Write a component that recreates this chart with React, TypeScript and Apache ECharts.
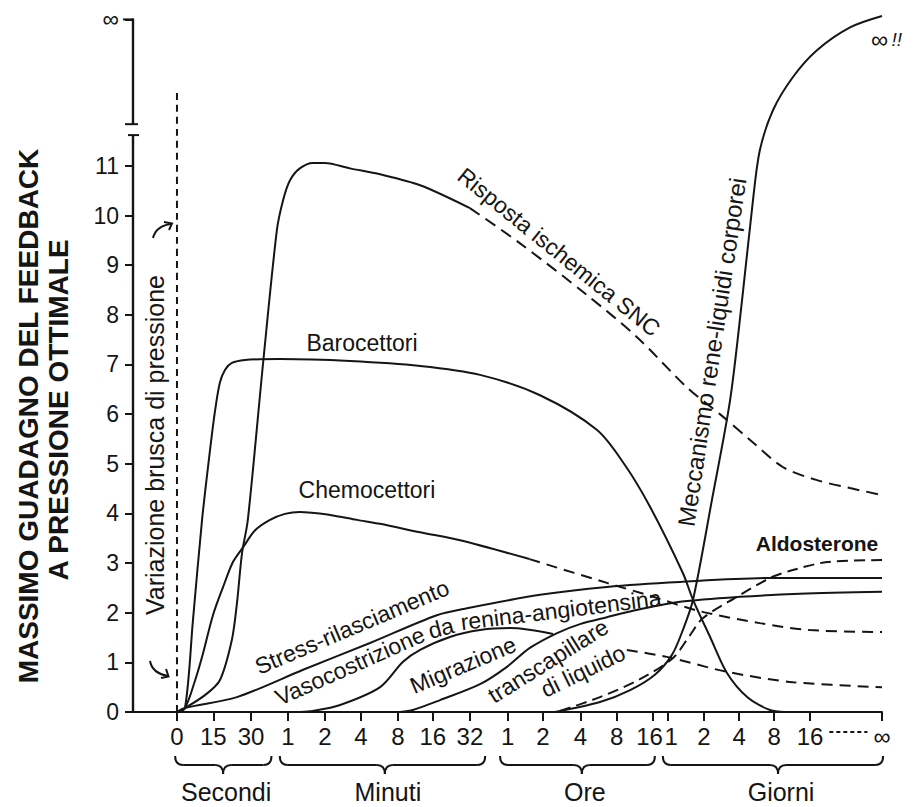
import React, { useEffect, useRef } from 'react';
import * as echarts from 'echarts';

// ---------- axis definitions (x in "time slots": each slot roughly a doubling) ----------
const TICK_POS = [0, 1, 2.04, 3.05, 4.07, 5.06, 6.08, 7.04, 8.06, 9.1, 10.07, 11.1, 12.1, 13.1, 13.5, 14.5, 15.47, 16.43, 17.42, 19.4];
const TICK_LABELS = ['0', '15', '30', '1', '2', '4', '8', '16', '32', '1', '2', '4', '8', '16', '1', '2', '4', '8', '16', '∞'];
const GROUP_NAMES = ['Secondi', 'Minuti', 'Ore', 'Giorni'];
const GROUP_FROM = [-0.05, 2.83, 8.89, 13.37];
const GROUP_MID = [1.27, 5.72, 11.14, 16.54];
const GROUP_TO = [2.6, 8.48, 13.15, 19.43];
const Y_TICKS = [0, 1, 2, 3, 4, 5, 6, 7, 8, 9, 10, 11, 13.95];
const Y_BREAK = [11.62, 11.84];
const Y_INF = 13.95;

// ---------- curves ([time slot, gain]) ----------
const SUDDEN_CHANGE = [[0, 0], [0, 12.57]];
const CNS_SOLID = [[0, 0], [0.22, 0.08], [0.77, 0.34], [1.18, 0.64], [1.51, 1.45], [1.65, 2.19], [1.79, 3.2], [1.95, 3.87], [2.37, 7.03], [2.75, 9.71], [2.92, 10.31], [3.11, 10.71], [3.38, 10.95], [3.74, 11.06], [4.07, 11.06], [4.76, 10.95], [5.59, 10.83], [6.69, 10.61], [8.06, 10.15]];
const CNS_DASHED = [[8.06, 10.15], [9.44, 9.44], [11.28, 8.4], [12.66, 7.55], [14.03, 6.54], [14.94, 6.0], [15.77, 5.48], [16.68, 4.93], [17.61, 4.67], [18.52, 4.51], [19.4, 4.37]];
const BARO = [[0, 0], [0.22, 0.08], [0.44, 1.85], [0.69, 3.87], [0.91, 5.28], [1.05, 6.08], [1.18, 6.63], [1.32, 6.89], [1.51, 7.03], [1.87, 7.09], [2.83, 7.11], [4.76, 7.07], [6.69, 6.97], [8.34, 6.79], [9.99, 6.38], [11.56, 5.68], [12.33, 4.97], [13.02, 4.13], [13.92, 2.8], [14.2, 2.26], [14.67, 1.51], [15.13, 0.79], [15.69, 0.3], [16.32, 0.04], [16.73, 0]];
const CHEMO_SOLID = [[0, 0], [0.22, 0.08], [0.5, 0.64], [0.72, 1.19], [0.99, 1.95], [1.27, 2.52], [1.54, 3.02], [1.82, 3.32], [2.15, 3.66], [2.56, 3.87], [2.97, 3.99], [3.38, 4.03], [4.21, 3.97], [4.95, 3.87], [5.59, 3.79], [6.69, 3.62], [7.79, 3.46], [9.7, 3.08]];
const CHEMO_DASHED = [[9.7, 3.08], [11.83, 2.6], [13.02, 2.34], [14.39, 2.03], [16.04, 1.79], [17.42, 1.65], [19.4, 1.61]];
const STRESS = [[0, 0], [0.22, 0.08], [1.65, 0.3], [3.47, 0.85], [5.31, 1.39], [7.15, 1.95], [7.98, 2.09], [9.99, 2.36], [11.83, 2.52], [13.84, 2.62], [16.4, 2.7], [19.4, 2.7]];
const RENIN_SOLID = [[3.38, 0], [3.74, 0.02], [4.49, 0.14], [5.59, 0.5], [6.22, 1.01], [6.69, 1.25], [7.51, 1.51], [8.34, 1.65], [9.16, 1.69], [10.35, 1.57]];
const RENIN_DASHED = [[12.38, 1.25], [13.48, 1.11], [15.13, 0.81], [16.95, 0.6], [19.4, 0.5]];
const CAPILLARY = [[6.14, 0], [6.49, 0.04], [7.24, 0.24], [8.34, 0.56], [9.08, 0.91], [9.71, 1.29], [10.46, 1.59], [11.09, 1.77], [11.83, 1.91], [12.74, 2.07], [13.84, 2.22], [15.49, 2.32], [17.14, 2.38], [19.4, 2.42]];
const ALDOSTERONE = [[10.54, 0.02], [11.64, 0.3], [12.74, 0.66], [13.65, 1.09], [14.12, 1.55], [14.47, 1.89], [15.41, 2.32], [16.32, 2.7], [16.95, 2.86], [17.89, 3.02], [19.4, 3.06]];
const RENAL = [[10.4, 0], [11.64, 0.2], [12.47, 0.44], [13.15, 0.75], [13.62, 1.15], [13.92, 1.65], [14.2, 2.26], [14.72, 4.27], [15.22, 6.28], [15.55, 8.3], [15.85, 10.31], [16.04, 11.32], [16.4, 12.12], [16.95, 12.79], [17.61, 13.33], [18.52, 13.79], [19.4, 14.02]];

const X_MIN = -1.21;
const X_MAX = 19.4;
const Y_MAX = 14.2;

const FONT = '"Liberation Sans", Arial, Helvetica, sans-serif';
const INK = '#151515';

// labels placed on the drawing: [text, x, y, rotationDeg (counter-clockwise), fontSize, bold]
const LABELS: [string, number, number, number, number, boolean][] = [
  ['Risposta ischemica SNC', 559, 252, -39, 23, false],
  ['Barocettori', 362, 343, 0, 23, false],
  ['Chemocettori', 367, 490, 0, 23, false],
  ['Meccanismo rene-liquidi corporei', 712, 352, 81.5, 24, false],
  ['Aldosterone', 817, 543, 0, 21, true],
  ['Stress-rilasciamento', 352, 627, 23, 23, false],
  ['Vasocostrizione', 350, 666, 24, 23, false],
  ['da', 441, 628, 15, 23, false],
  ['renina-angiotensina', 561, 610, 7, 23, false],
  ['Migrazione', 463, 665, 23, 23, false],
  ['transcapillare', 548, 661, 32, 23, false],
  ['di liquido', 583, 671, 26, 23, false],
  ['Variazione brusca di pressione', 155, 445, 90, 25, false],
  ['MASSIMO GUADAGNO DEL FEEDBACK', 28, 416, 90, 28, true],
  ['A PRESSIONE OTTIMALE', 58, 410, 90, 28, true],
];

export default function App() {
  const ref = useRef<HTMLDivElement>(null);

  useEffect(() => {
    const chart = echarts.init(ref.current as HTMLDivElement, null, { renderer: 'svg' });
    const line = (name: string, data: number[][], dash?: number[]) => ({
      type: 'line',
      name,
      data,
      symbol: 'none',
      smooth: 0.3,
      silent: true,
      z: 3,
      lineStyle: { color: INK, width: 2, type: dash ? dash : 'solid' },
    });
    const lookup = (v: number) => {
      const i = TICK_POS.findIndex((p) => Math.abs(p - v) < 1e-6);
      if (i < 0) return '';
      // the last hour label and the first day label touch in the original ("161")
      if (i === 13) return '{l|' + TICK_LABELS[i] + '}';
      if (i === 14) return '{r|' + TICK_LABELS[i] + '}';
      return TICK_LABELS[i];
    };
    const tickText = { fontSize: 24, fontFamily: FONT, color: INK };
    chart.setOption({
      animation: false,
      backgroundColor: '#ffffff',
      grid: { left: 133, right: 35, top: 7, bottom: 95 },
      xAxis: {
        type: 'value',
        min: X_MIN,
        max: X_MAX,
        axisLine: { show: true, onZero: false, lineStyle: { color: INK, width: 2 } },
        axisTick: { show: true, customValues: TICK_POS, length: 9, lineStyle: { color: INK, width: 2 } },
        axisLabel: {
          customValues: TICK_POS,
          formatter: lookup,
          ...tickText,
          margin: 12,
          hideOverlap: false,
          rich: {
            l: { ...tickText, padding: [0, 7, 0, 0] },
            r: { ...tickText, padding: [0, 0, 0, 7] },
          },
        },
        splitLine: { show: false },
      },
      yAxis: {
        type: 'value',
        min: 0,
        max: Y_MAX,
        axisLine: { show: false, onZero: false },
        axisTick: { show: true, customValues: Y_TICKS, length: 8, lineStyle: { color: INK, width: 2 } },
        axisLabel: {
          customValues: Y_TICKS,
          formatter: (v: number) => (v > 12 ? '∞' : String(v)),
          fontSize: 23,
          fontFamily: FONT,
          color: INK,
          margin: 14,
        },
        splitLine: { show: false },
      },
      series: [
        line('Variazione brusca di pressione', SUDDEN_CHANGE, [7, 5]),
        line('Risposta ischemica SNC', CNS_SOLID),
        line('Risposta ischemica SNC (tratteggio)', CNS_DASHED, [12, 7]),
        line('Barocettori', BARO),
        line('Chemocettori', CHEMO_SOLID),
        line('Chemocettori (tratteggio)', CHEMO_DASHED, [11, 7]),
        line('Stress-rilasciamento', STRESS),
        line('Vasocostrizione da renina-angiotensina', RENIN_SOLID),
        line('Vasocostrizione (tratteggio)', RENIN_DASHED, [11, 7]),
        line('Migrazione transcapillare di liquido', CAPILLARY),
        line('Aldosterone', ALDOSTERONE, [11, 6]),
        line('Meccanismo rene-liquidi corporei', RENAL),
      ],
    });

    const px = (x: number, y: number) => chart.convertToPixel({ gridIndex: 0 }, [x, y]) as number[];
    const stroke = { stroke: INK, lineWidth: 2, fill: null };
    const g: any[] = [];

    // y axis with break
    const ax = px(X_MIN, 0)[0];
    const y0 = px(0, 0)[1];
    const yb0 = px(0, Y_BREAK[0])[1];
    const yb1 = px(0, Y_BREAK[1])[1];
    const yInf = px(0, Y_INF)[1];
    g.push({ type: 'line', shape: { x1: ax, y1: y0 + 1, x2: ax, y2: yb0 }, style: { ...stroke, lineWidth: 2.4 } });
    g.push({ type: 'line', shape: { x1: ax, y1: yb1, x2: ax, y2: yInf - 1 }, style: { ...stroke, lineWidth: 2.4 } });
    g.push({ type: 'line', shape: { x1: ax - 5, y1: yb0, x2: ax + 6, y2: yb0 }, style: stroke });
    g.push({ type: 'line', shape: { x1: ax - 8, y1: yb1, x2: ax + 5, y2: yb1 }, style: stroke });
    g.push({ type: 'line', shape: { x1: ax - 10, y1: yInf, x2: ax, y2: yInf }, style: stroke });

    // braces and group names under the time axis
    const yTop = y0 + 44, yFlat = y0 + 53, yTip = y0 + 62, r = 8;
    GROUP_NAMES.forEach((name, i) => {
      const a = px(GROUP_FROM[i], 0)[0];
      const m = px(GROUP_MID[i], 0)[0];
      const b = px(GROUP_TO[i], 0)[0];
      g.push({ type: 'bezierCurve', shape: { x1: a, y1: yTop, x2: a + r, y2: yFlat, cpx1: a, cpy1: yFlat }, style: stroke });
      g.push({ type: 'line', shape: { x1: a + r, y1: yFlat, x2: m - r, y2: yFlat }, style: stroke });
      g.push({ type: 'bezierCurve', shape: { x1: m - r, y1: yFlat, x2: m, y2: yTip, cpx1: m, cpy1: yFlat }, style: stroke });
      g.push({ type: 'bezierCurve', shape: { x1: m, y1: yTip, x2: m + r, y2: yFlat, cpx1: m, cpy1: yFlat }, style: stroke });
      g.push({ type: 'line', shape: { x1: m + r, y1: yFlat, x2: b - r, y2: yFlat }, style: stroke });
      g.push({ type: 'bezierCurve', shape: { x1: b - r, y1: yFlat, x2: b, y2: yTop, cpx1: b, cpy1: yFlat }, style: stroke });
      g.push({
        type: 'text', x: m + 3, y: y0 + 80,
        style: { text: name, fontSize: 25, fontFamily: FONT, fill: INK, align: 'center', verticalAlign: 'middle' },
      });
    });

    // dotted run from 16 days to infinity
    const d0 = px(17.95, 0)[0], d1 = px(19.0, 0)[0];
    g.push({ type: 'line', shape: { x1: d0, y1: y0 + 20, x2: d1, y2: y0 + 20 }, style: { ...stroke, lineDash: [4, 3] } });

    // curved arrows pointing at the sudden change line
    g.push({ type: 'bezierCurve', shape: { x1: 153, y1: 238, x2: 171, y2: 224, cpx1: 156, cpy1: 226 }, style: stroke });
    g.push({ type: 'polyline', shape: { points: [[164, 222], [172, 223.5], [169, 230]] }, style: stroke });
    g.push({ type: 'bezierCurve', shape: { x1: 150, y1: 661, x2: 168, y2: 676, cpx1: 152, cpy1: 673 }, style: stroke });
    g.push({ type: 'polyline', shape: { points: [[161, 678], [168.5, 676.5], [166, 669]] }, style: stroke });

    // text labels
    LABELS.forEach(([text, x, y, rot, size, bold]) => {
      g.push({
        type: 'text', x, y, rotation: (rot * Math.PI) / 180, z: 10,
        style: {
          text, fontSize: size, fontFamily: FONT, fill: INK, fontWeight: bold ? 'bold' : 'normal',
          align: 'center', verticalAlign: 'middle',
        },
      });
    });
    g.push({
      type: 'text', x: 871, y: 39, z: 10,
      style: {
        text: '{a|∞} {b|!!}',
        align: 'left', verticalAlign: 'middle',
        rich: {
          a: { fontSize: 24, fontFamily: FONT, fill: INK },
          b: { fontSize: 19, fontFamily: FONT, fill: INK, fontStyle: 'italic' },
        },
      },
    });

    chart.setOption({ graphic: g });
    return () => chart.dispose();
  }, []);

  return <div ref={ref} style={{ position: 'absolute', left: 0, top: 0, width: 917, height: 807, background: '#fff' }} />;
}
